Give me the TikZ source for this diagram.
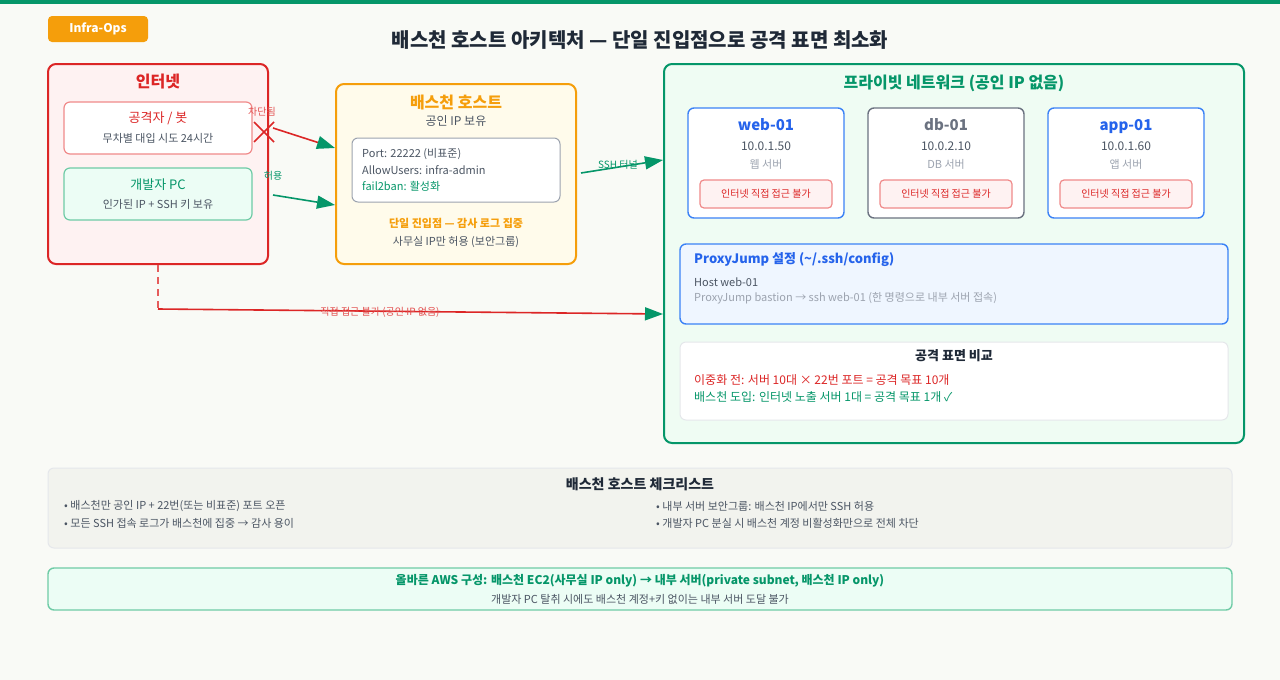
\documentclass[tikz,border=0pt]{standalone}
\usepackage{fontspec}
\setmainfont{Noto Sans CJK KR}
\usetikzlibrary{arrows.meta}

\definecolor{paper}{HTML}{F9FAF6}
\definecolor{emerald}{HTML}{059669}
\definecolor{mint}{HTML}{6FCBA6}
\definecolor{mintfill}{HTML}{ECFDF5}
\definecolor{privfill}{HTML}{EFFCF3}
\definecolor{alarm}{HTML}{DC2626}
\definecolor{alarmsoft}{HTML}{F08A8A}
\definecolor{alarmfill}{HTML}{FEF2F2}
\definecolor{amber}{HTML}{F59E0B}
\definecolor{amberfill}{HTML}{FFFBEB}
\definecolor{azure}{HTML}{3B82F6}
\definecolor{azuretext}{HTML}{2563EB}
\definecolor{azurefill}{HTML}{EFF6FF}
\definecolor{slate}{HTML}{4B5563}
\definecolor{slatesoft}{HTML}{9CA3AF}
\definecolor{steel}{HTML}{6B7280}
\definecolor{ink}{HTML}{1F2937}
\definecolor{hairline}{HTML}{E5E7EB}
\definecolor{checkfill}{HTML}{F2F3EE}

\newcommand{\fsz}[1]{\fontsize{#1}{#1}\selectfont}

\begin{document}
\begin{tikzpicture}[x=1pt, y=-1pt,
  panel/.style={draw, rounded corners=8pt, line width=2pt},
  card/.style={draw, rounded corners=6pt, line width=1.4pt},
  lbl/.style={inner sep=0pt, align=center},
  tip/.style={-{Triangle[length=18pt, width=13pt, color=emerald]}, line width=1.6pt}]

  % Canvas
  \fill[paper] (0,0) rectangle (1280,680);
  \useasboundingbox (0,0) rectangle (1280,680);
  \fill[emerald] (0,0) rectangle (1280,4);

  % Badge and title
  \node[fill=amber, rounded corners=4pt, minimum width=100pt, minimum height=26pt,
        text=white, font=\fsz{12}\bfseries] (badge) at (98,29) {Infra-Ops};
  \node[lbl, text=ink, font=\fsz{20}\bfseries] (title) at (640,40)
    {배스천 호스트 아키텍처 — 단일 진입점으로 공격 표면 최소화};

  % Internet
  \node[panel, draw=alarm, fill=alarmfill, minimum width=220pt, minimum height=200pt] (inet) at (158,164) {};
  \node[lbl, text=alarm, font=\fsz{16}\bfseries] (inettitle) at (158,82) {인터넷};
  \node[card, line width=1.2pt, draw=alarmsoft, fill=white, minimum width=188pt, minimum height=52pt] (atk) at (158,128) {};
  \node[lbl, text=alarm, font=\fsz{13}] (atkname) at (158,118) {공격자 / 봇};
  \node[lbl, text=slate, font=\fsz{11}] (atknote) at (158,138) {무차별 대입 시도 24시간};
  \node[card, line width=1.2pt, draw=mint, fill=mintfill, minimum width=188pt, minimum height=52pt] (dev) at (158,194) {};
  \node[lbl, text=emerald, font=\fsz{13}] (devname) at (158,185) {개발자 PC};
  \node[lbl, text=slate, font=\fsz{11}] (devnote) at (158,204) {인가된 IP + SSH 키 보유};

  % Bastion
  \node[panel, draw=amber, fill=amberfill, minimum width=240pt, minimum height=180pt] (bast) at (456,174) {};
  \node[lbl, text=amber, font=\fsz{16}\bfseries] (basttitle) at (456,102) {배스천 호스트};
  \node[lbl, text=slate, font=\fsz{12}] (bastip) at (456,121) {공인 IP 보유};
  \node[card, line width=1pt, draw=slatesoft, fill=white, minimum width=208pt, minimum height=64pt] (sshd) at (456,170) {};
  \node[lbl, anchor=west, text=slate, font=\fsz{11}] (port) at (362,154) {Port: 22222 (비표준)};
  \node[lbl, anchor=west, text=slate, font=\fsz{11}] (users) at (362,170) {AllowUsers: infra-admin};
  \node[lbl, anchor=west, text=emerald, font=\fsz{11}] (f2b) at (362,186) {fail2ban: 활성화};
  \node[lbl, text=amber, font=\fsz{11}\bfseries] (single) at (456,223) {단일 진입점 — 감사 로그 집중};
  \node[lbl, text=slate, font=\fsz{11}] (office) at (456,242) {사무실 IP만 허용 (보안그룹)};

  % Private network
  \node[panel, draw=emerald, fill=privfill, minimum width=580pt, minimum height=379pt] (priv) at (954,253.5) {};
  \node[lbl, text=emerald, font=\fsz{16}\bfseries] (privtitle) at (954,83) {프라이빗 네트워크 (공인 IP 없음)};

  \node[card, draw=azure, fill=white, minimum width=156pt, minimum height=110pt] (web) at (766,163) {};
  \node[lbl, anchor=base, text=azuretext, font=\fsz{15}\bfseries] (webname) at (766,130.5) {web-01};
  \node[lbl, text=slate, font=\fsz{12}] (webip) at (766,146) {10.0.1.50};
  \node[lbl, text=slatesoft, font=\fsz{11}] (webrole) at (766,164) {웹 서버};
  \node[card, line width=1.2pt, rounded corners=4pt, draw=alarmsoft, fill=alarmfill, minimum width=132pt, minimum height=28pt,
        text=alarm, font=\fsz{10}] (webnote) at (766,194) {인터넷 직접 접근 불가};

  \node[card, draw=steel, fill=white, minimum width=156pt, minimum height=110pt] (db) at (946,163) {};
  \node[lbl, anchor=base, text=steel, font=\fsz{15}\bfseries] (dbname) at (946,130.5) {db-01};
  \node[lbl, text=slate, font=\fsz{12}] (dbip) at (946,146) {10.0.2.10};
  \node[lbl, text=slatesoft, font=\fsz{11}] (dbrole) at (946,164) {DB 서버};
  \node[card, line width=1.2pt, rounded corners=4pt, draw=alarmsoft, fill=alarmfill, minimum width=132pt, minimum height=28pt,
        text=alarm, font=\fsz{10}] (dbnote) at (946,194) {인터넷 직접 접근 불가};

  \node[card, draw=azure, fill=white, minimum width=156pt, minimum height=110pt] (app) at (1126,163) {};
  \node[lbl, anchor=base, text=azuretext, font=\fsz{15}\bfseries] (appname) at (1126,130.5) {app-01};
  \node[lbl, text=slate, font=\fsz{12}] (appip) at (1126,146) {10.0.1.60};
  \node[lbl, text=slatesoft, font=\fsz{11}] (approle) at (1126,164) {앱 서버};
  \node[card, line width=1.2pt, rounded corners=4pt, draw=alarmsoft, fill=alarmfill, minimum width=132pt, minimum height=28pt,
        text=alarm, font=\fsz{10}] (appnote) at (1126,194) {인터넷 직접 접근 불가};

  % ProxyJump
  \node[card, draw=azure, fill=azurefill, minimum width=548pt, minimum height=80pt] (jump) at (954,284) {};
  \node[lbl, anchor=west, text=azuretext, font=\fsz{13}\bfseries] (jumptitle) at (694,260) {ProxyJump 설정 (\textasciitilde/.ssh/config)};
  \node[lbl, anchor=west, text=slate, font=\fsz{11}] (jumphost) at (694,282) {Host web-01};
  \node[lbl, anchor=west, text=slatesoft, font=\fsz{11}] (jumpcmd) at (694,298) {ProxyJump bastion → ssh web-01 (한 명령으로 내부 서버 접속)};

  % Attack surface
  \node[card, line width=1pt, draw=hairline, fill=white, minimum width=548pt, minimum height=78pt] (surf) at (954,381) {};
  \node[lbl, text=ink, font=\fsz{13}\bfseries] (surftitle) at (954,356) {공격 표면 비교};
  \node[lbl, anchor=west, text=alarm, font=\fsz{12}] (before) at (694,380) {이중화 전: 서버 10대 × 22번 포트 = 공격 목표 10개};
  \node[lbl, anchor=west, text=emerald, font=\fsz{12}] (after) at (694,397) {배스천 도입: 인터넷 노출 서버 1대 = 공격 목표 1개 ✓};

  % Connectors
  \draw[tip, alarm] ([xshift=4pt]inet.east |- atk.center) -- (bast.west |- 0,148);
  \coordinate (cut) at ([xshift=-5pt]inet.east |- 0,132);
  \draw[alarm, line width=1.6pt] ([shift={(-10pt,10pt)}]cut) -- ([shift={(10pt,-10pt)}]cut)
                                 ([shift={(-10pt,-10pt)}]cut) -- ([shift={(10pt,10pt)}]cut);
  \node[lbl, text=alarm!80, font=\fsz{10}] (blocked) at (262,112) {차단됨};

  \draw[tip, emerald] ([xshift=4pt]inet.east |- 0,195) -- (bast.west |- 0,205);
  \node[lbl, text=emerald, font=\fsz{10}] (allowed) at (273,176) {허용};

  \draw[tip, emerald] ([xshift=4pt]bast.east |- 0,173) -- (priv.west |- 0,160);
  \node[lbl, text=emerald, font=\fsz{10}] (tunnel) at (618,165) {SSH 터널};

  \coordinate (bend) at (158,309);
  \draw[alarm!75, line width=1.6pt, dash pattern=on 7pt off 5pt] (inet.south) -- (bend);
  \draw[tip, alarm] (bend) -- (priv.west |- 0,314);
  \node[lbl, text=alarm!80, font=\fsz{10}] (noaccess) at (380,312) {직접 접근 불가 (공인 IP 없음)};

  % Checklist
  \node[card, line width=1pt, draw=hairline, fill=checkfill, minimum width=1184pt, minimum height=80pt] (check) at (640,508) {};
  \node[lbl, text=ink, font=\fsz{14}\bfseries] (checktitle) at (640,484) {배스천 호스트 체크리스트};
  \node[lbl, anchor=west, text=slate, font=\fsz{11}] (item1) at (64,506) {• 배스천만 공인 IP + 22번(또는 비표준) 포트 오픈};
  \node[lbl, anchor=west, text=slate, font=\fsz{11}] (item2) at (64,523) {• 모든 SSH 접속 로그가 배스천에 집중 → 감사 용이};
  \node[lbl, anchor=west, text=slate, font=\fsz{11}] (item3) at (656,506) {• 내부 서버 보안그룹: 배스천 IP에서만 SSH 허용};
  \node[lbl, anchor=west, text=slate, font=\fsz{11}] (item4) at (656,523) {• 개발자 PC 분실 시 배스천 계정 비활성화만으로 전체 차단};

  % AWS note
  \node[card, line width=1.4pt, draw=mint, fill=mintfill, minimum width=1184pt, minimum height=42pt] (aws) at (640,589) {};
  \node[lbl, text=emerald, font=\fsz{12}\bfseries] (awstitle) at (640,581)
    {올바른 AWS 구성: 배스천 EC2(사무실 IP only) → 내부 서버(private subnet, 배스천 IP only)};
  \node[lbl, text=slate, font=\fsz{11}] (awsnote) at (640,599) {개발자 PC 탈취 시에도 배스천 계정+키 없이는 내부 서버 도달 불가};
\end{tikzpicture}
\end{document}
